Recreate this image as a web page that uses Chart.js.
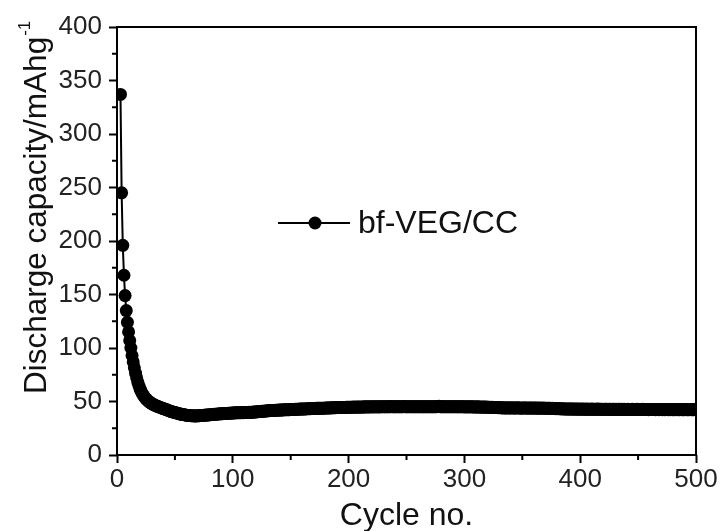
<!DOCTYPE html>
<html>
<head>
<meta charset="utf-8">
<script src="https://cdn.jsdelivr.net/npm/chart.js@4/dist/chart.umd.min.js"></script>
<style>
  body { margin: 0; background: #fff; }
  #wrap { width: 720px; height: 531px; position: relative; }
</style>
</head>
<body>
<div id="wrap"><canvas id="capChart"></canvas></div>
<script>
// cycle numbers start here (first point sits just right of 0)
var firstCycle = 3;
var seriesName = 'bf-VEG/CC';
var yTicks = [0, 50, 100, 150, 200, 250, 300, 350, 400];
var xTicks = [0, 100, 200, 300, 400, 500];

// discharge capacity, mAh/g, one value per cycle
var capacity = [
  337,245,196,168,149,135,124,115,107,100,
  93,87,81.5,76.5,72,68,64.5,61.5,59,57,
  55.3,53.8,52.5,51.4,50.4,49.6,48.8,48.1,47.5,46.9,
  46.4,45.9,45.4,45.0,44.6,44.2,43.8,43.4,43.0,42.6,
  42.2,41.8,41.4,41.0,40.6,40.3,40.0,39.7,39.4,39.1,
  38.8,38.5,38.2,38.0,37.8,37.6,37.4,37.2,37.0,36.9,
  36.8,36.7,36.6,36.6,36.5,36.5,36.6,36.6,36.7,36.8,
  36.9,37.0,37.1,37.2,37.3,37.4,37.5,37.6,37.7,37.8,
  37.9,38.0,38.1,38.2,38.3,38.4,38.5,38.5,38.6,38.7,
  38.8,38.9,38.9,39.0,39.1,39.1,39.2,39.3,39.3,39.4,
  39.4,39.5,39.5,39.6,39.6,39.7,39.6,39.7,39.8,39.7,
  39.8,39.9,39.8,39.9,40.0,40.1,40.2,40.3,40.4,40.5,
  40.6,40.7,40.8,40.9,41.0,41.1,41.2,41.3,41.4,41.5,
  41.5,41.6,41.7,41.7,41.8,41.9,41.9,42.0,42.0,42.1,
  42.1,42.2,42.2,42.3,42.3,42.4,42.4,42.5,42.5,42.6,
  42.6,42.7,42.7,42.8,42.8,42.9,42.9,43.0,43.0,43.1,
  43.1,43.2,43.2,43.3,43.3,43.4,43.4,43.5,43.5,43.6,
  43.6,43.6,43.7,43.7,43.8,43.8,43.8,43.9,43.9,44.0,
  44.0,44.0,44.1,44.1,44.2,44.2,44.2,44.3,44.3,44.4,
  44.4,44.4,44.5,44.5,44.5,44.6,44.6,44.6,44.7,44.7,
  44.6,44.8,44.7,44.9,44.7,44.8,44.9,44.7,44.9,44.8,
  44.9,45.0,44.8,45.0,44.9,45.1,44.9,45.0,45.1,44.9,
  45.0,45.1,45.0,44.9,45.1,45.0,45.2,45.0,45.1,45.0,
  45.1,45.2,45.0,45.1,45.3,45.0,45.1,45.2,45.0,45.1,
  45.2,45.1,45.0,45.2,45.1,45.3,45.1,45.0,45.2,45.1,
  45.1,45.2,45.0,45.1,45.2,45.1,45.0,45.2,45.1,45.1,
  45.0,45.2,45.1,45.0,45.1,45.2,45.1,45.0,45.1,45.2,
  45.1,45.0,45.2,45.1,45.3,45.5,45.2,45.1,45.0,45.2,
  45.1,45.2,45.0,45.1,45.2,45.1,45.0,45.1,45.2,45.1,
  45.0,45.1,45.0,45.2,45.1,45.0,45.1,45.0,44.9,45.1,
  45.0,44.9,45.0,45.1,44.9,45.0,44.8,44.9,45.0,44.8,
  44.9,44.8,44.7,44.9,44.8,44.7,44.8,44.6,44.7,44.6,
  44.5,44.6,44.4,44.5,44.3,44.4,44.2,44.3,44.1,44.2,
  44.0,44.1,44.0,43.9,44.1,44.0,43.9,44.0,44.1,43.9,
  44.0,43.9,44.0,44.1,43.9,44.0,43.8,44.0,43.9,44.0,
  43.9,44.0,43.8,43.9,44.0,43.9,43.8,43.9,44.0,43.8,
  43.9,43.8,43.9,43.7,43.8,43.9,43.7,43.8,43.7,43.8,
  43.6,43.7,43.5,43.6,43.4,43.5,43.3,43.4,43.2,43.3,
  43.2,43.1,43.2,43.0,43.1,43.0,42.9,43.0,42.9,43.0,
  42.9,43.0,42.8,42.9,43.0,42.8,42.9,42.8,42.9,42.8,
  42.9,42.8,42.7,42.9,42.8,42.7,42.8,42.9,42.7,42.8,
  42.7,42.8,42.9,42.7,42.8,42.7,42.8,42.6,42.7,42.8,
  42.7,42.6,42.8,42.7,42.6,42.7,42.8,42.6,42.7,42.6,
  42.7,42.8,42.6,42.7,42.6,42.7,42.5,42.6,42.7,42.6,
  42.5,42.6,42.7,42.6,42.5,42.6,42.7,42.5,42.6,42.5,
  42.6,42.7,42.5,42.6,42.5,42.6,42.4,42.5,42.6,42.5,
  42.6,42.5,42.4,42.6,42.5,42.4,42.5,42.6,42.4,42.5,
  42.4,42.5,42.6,42.4,42.5,42.4,42.5,42.3,42.4,42.5,
  42.4,42.5,42.3,42.4,42.5,42.4,42.3,42.4,42.5,42.3,
  42.4,42.3,42.5,42.4,42.3,42.4,42.5,42.3,42.4,42.3
];

var points = capacity.map(function (v, i) { return { x: firstCycle + i, y: v }; });

var fontName = '"Liberation Sans", Arial, sans-serif';

// frame, minor ticks, axis titles and the in-plot legend
var extras = {
  id: 'extras',
  afterDraw: function (chart) {
    var ctx = chart.ctx;
    var a = chart.chartArea;
    var xs = chart.scales.x, ys = chart.scales.y;
    ctx.save();
    ctx.strokeStyle = '#000';
    ctx.lineWidth = 2;
    ctx.strokeRect(a.left, a.top, a.right - a.left, a.bottom - a.top);

    ctx.beginPath();
    for (var i = 0; i < yTicks.length - 1; i++) {
      var yp = ys.getPixelForValue((yTicks[i] + yTicks[i + 1]) / 2);
      ctx.moveTo(a.left - 5, yp); ctx.lineTo(a.left, yp);
    }
    for (var j = 0; j < xTicks.length - 1; j++) {
      var xp = xs.getPixelForValue((xTicks[j] + xTicks[j + 1]) / 2);
      ctx.moveTo(xp, a.bottom); ctx.lineTo(xp, a.bottom + 5);
    }
    ctx.stroke();

    // x title
    ctx.fillStyle = '#111';
    ctx.font = '32px ' + fontName;
    ctx.textAlign = 'center';
    ctx.textBaseline = 'alphabetic';
    ctx.fillText('Cycle no.', (a.left + a.right) / 2, 525);

    // y title with superscript
    ctx.save();
    ctx.translate(46, 394);
    ctx.rotate(-Math.PI / 2);
    ctx.textAlign = 'left';
    ctx.font = '31.5px ' + fontName;
    var t = 'Discharge capacity/mAhg';
    ctx.fillText(t, 0, 0);
    var w = ctx.measureText(t).width;
    ctx.font = '17px ' + fontName;
    ctx.fillText('-1', w + 1, -16);
    ctx.restore();

    // legend
    var ly = a.top + 196;
    ctx.beginPath();
    ctx.moveTo(a.left + 161, ly); ctx.lineTo(a.left + 233, ly);
    ctx.stroke();
    ctx.beginPath();
    ctx.arc(a.left + 198, ly, 6.5, 0, Math.PI * 2);
    ctx.fillStyle = '#000';
    ctx.fill();
    ctx.fillStyle = '#111';
    ctx.font = '32px ' + fontName;
    ctx.textAlign = 'left';
    ctx.textBaseline = 'middle';
    ctx.fillText(seriesName, a.left + 241, ly + 1);
    ctx.restore();
  }
};

new Chart(document.getElementById('capChart'), {
  type: 'line',
  data: {
    datasets: [{
      label: seriesName,
      data: points,
      borderColor: '#000',
      backgroundColor: '#000',
      borderWidth: 2,
      pointRadius: 6.5,
      pointBorderWidth: 0,
      pointBackgroundColor: '#000',
      tension: 0
    }]
  },
  options: {
    responsive: true,
    maintainAspectRatio: false,
    animation: false,
    layout: { padding: { top: 27, right: 24, left: 0, bottom: 0 } },
    plugins: { legend: { display: false }, tooltip: { enabled: false } },
    scales: {
      x: {
        type: 'linear', min: 0, max: 500,
        afterFit: function (s) { s.height = 76; },
        afterBuildTicks: function (s) { s.ticks = xTicks.map(function (v) { return { value: v }; }); },
        ticks: { color: '#222', font: { family: fontName, size: 26 }, padding: 1, maxRotation: 0 },
        grid: { drawOnChartArea: false, tickLength: 8, tickWidth: 2, tickColor: '#000' },
        border: { display: false }
      },
      y: {
        min: 0, max: 400,
        afterFit: function (s) { s.width = 117; },
        afterBuildTicks: function (s) { s.ticks = yTicks.map(function (v) { return { value: v }; }); },
        ticks: { color: '#222', font: { family: fontName, size: 26 }, padding: 7 },
        grid: { drawOnChartArea: false, tickLength: 8, tickWidth: 2, tickColor: '#000' },
        border: { display: false }
      }
    }
  },
  plugins: [extras]
});
</script>
</body>
</html>
